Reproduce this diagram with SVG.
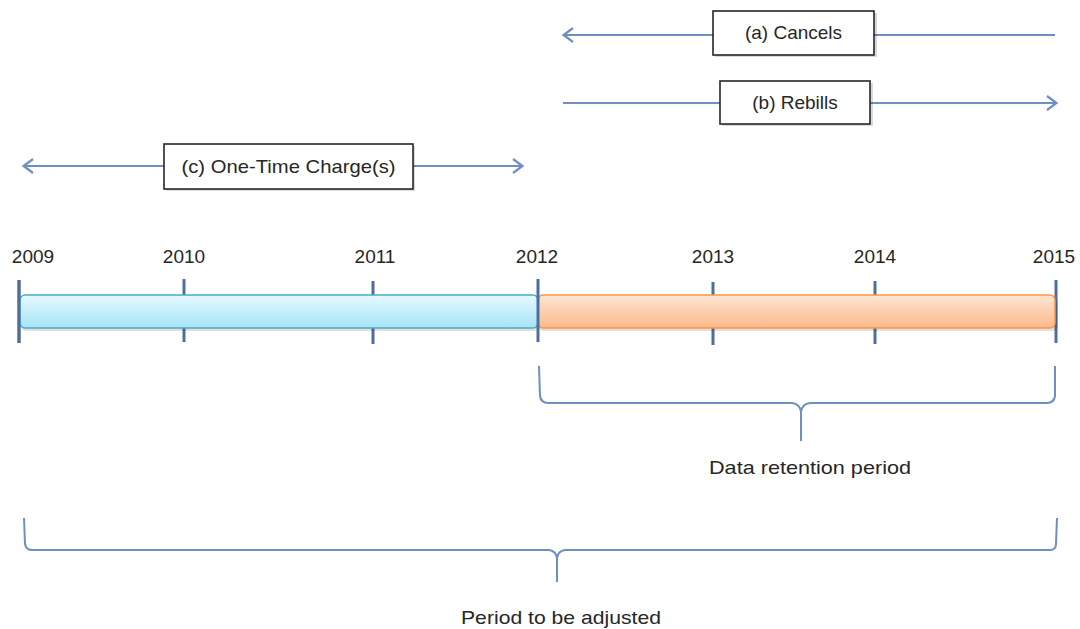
<svg xmlns="http://www.w3.org/2000/svg" width="1080" height="629" viewBox="0 0 1080 629">
<style>
text{font-family:"Liberation Sans",Arial,sans-serif;fill:#262626;font-size:19px}
.box{fill:#fff;stroke:#262626;stroke-width:1.6}
.shadow{fill:#000;opacity:0.15}
.conn{stroke:#6f8fc0;stroke-width:2.2;fill:none}
.tick{stroke:#4e6f9e;stroke-width:3}
.brace{stroke:#6f8fc0;stroke-width:2;fill:none}
</style>
<defs>
<marker id="arr" viewBox="0 0 12 16" markerWidth="12" markerHeight="16" refX="11" refY="8" orient="auto-start-reverse" markerUnits="userSpaceOnUse">
<path d="M1,1 L10.5,8 L1,15" fill="none" stroke="#6f8fc0" stroke-width="2.2"/>
</marker>
<linearGradient id="gb" x1="0" y1="0" x2="0" y2="1">
<stop offset="0" stop-color="#e6f9fe"/><stop offset="1" stop-color="#a6e5f8"/>
</linearGradient>
<linearGradient id="go" x1="0" y1="0" x2="0" y2="1">
<stop offset="0" stop-color="#fde6d4"/><stop offset="1" stop-color="#fbb98a"/>
</linearGradient>
</defs>
<g id="connectors">
<line class="conn" x1="1055" y1="35" x2="563" y2="35" marker-end="url(#arr)"/>
<line class="conn" x1="563" y1="103" x2="1057" y2="103" marker-end="url(#arr)"/>
<line class="conn" x1="23" y1="166" x2="523" y2="166" marker-start="url(#arr)" marker-end="url(#arr)"/>
</g>
<g id="node-cancels">
<rect class="shadow" x="715" y="13" width="162" height="44"/>
<rect class="box" x="713" y="11" width="161" height="44"/>
<text x="793.5" y="39" text-anchor="middle">(a) Cancels</text>
</g>
<g id="node-rebills">
<rect class="shadow" x="722" y="83" width="151" height="43"/>
<rect class="box" x="720" y="81" width="150" height="43"/>
<text x="795" y="109" text-anchor="middle">(b) Rebills</text>
</g>
<g id="node-onetime">
<rect class="shadow" x="166" y="146" width="249" height="45"/>
<rect class="box" x="164" y="144" width="249" height="45"/>
<text x="288.5" y="173" text-anchor="middle" textLength="214" lengthAdjust="spacingAndGlyphs">(c) One-Time Charge(s)</text>
</g>
<g id="timeline">
<line class="tick" x1="19" y1="280" x2="19" y2="343"/>
<line class="tick" x1="184" y1="279" x2="184" y2="342"/>
<line class="tick" x1="373" y1="281" x2="373" y2="344"/>
<line class="tick" x1="713" y1="282" x2="713" y2="345"/>
<line class="tick" x1="875" y1="281" x2="875" y2="344"/>
<line class="tick" x1="1056" y1="280" x2="1056" y2="343"/>
<rect x="21" y="298" width="519" height="33" rx="5" fill="#000" opacity="0.12"/>
<rect x="538" y="298" width="520" height="33" rx="5" fill="#000" opacity="0.12"/>
<rect x="20" y="295" width="518" height="33" rx="5" fill="url(#gb)" stroke="#4bacc6" stroke-width="1.5"/>
<rect x="538" y="295" width="517" height="33" rx="5" fill="url(#go)" stroke="#f79646" stroke-width="1.5"/>
<line class="tick" x1="538" y1="279" x2="538" y2="342"/>
<line class="tick" x1="19" y1="280" x2="19" y2="343"/>
<text x="33" y="263" text-anchor="middle">2009</text>
<text x="184" y="263" text-anchor="middle">2010</text>
<text x="375" y="263" text-anchor="middle">2011</text>
<text x="537" y="263" text-anchor="middle">2012</text>
<text x="713" y="263" text-anchor="middle">2013</text>
<text x="875" y="263" text-anchor="middle">2014</text>
<text x="1054" y="263" text-anchor="middle">2015</text>
</g>
<g id="brace-retention">
<path class="brace" d="M539,366 L540,396 Q541,403 548,403 L792,403 Q800,404 801,412 L801,441 M801,412 Q802,404 810,403 L1047,403 Q1054,403 1055,396 L1055,366"/>
<text x="810" y="474" text-anchor="middle" textLength="202" lengthAdjust="spacingAndGlyphs">Data retention period</text>
</g>
<g id="brace-adjusted">
<path class="brace" d="M24,518 L25,544 Q26,550 32,550 L549,550 Q556,551 557,558 L557,582 M557,558 Q558,551 565,550 L1050,550 Q1056,550 1056,544 L1057,518"/>
<text x="561" y="624" text-anchor="middle" textLength="200" lengthAdjust="spacingAndGlyphs">Period to be adjusted</text>
</g>
</svg>
